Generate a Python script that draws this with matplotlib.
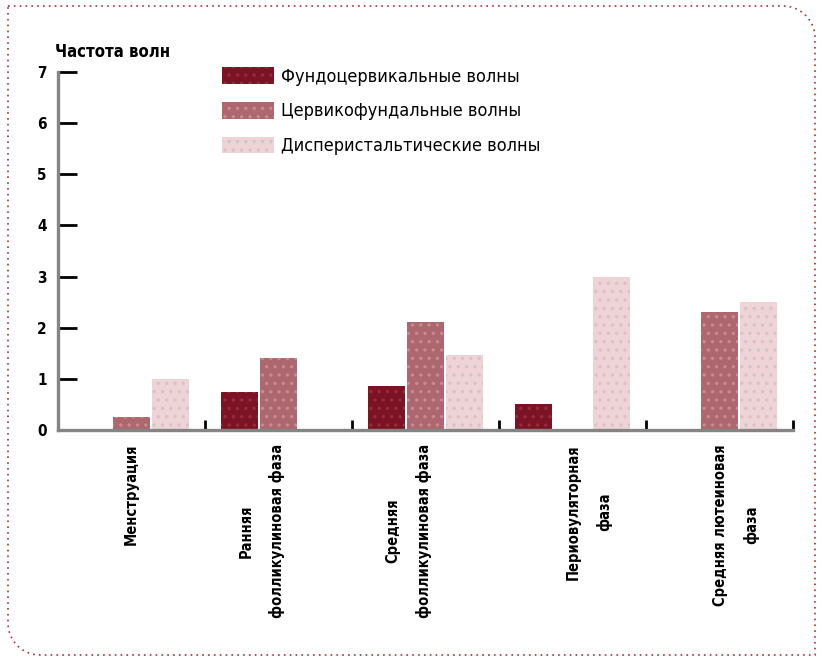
import matplotlib.pyplot as plt
import numpy as np
from matplotlib.path import Path
from matplotlib.patches import PathPatch
from matplotlib.transforms import ScaledTranslation

plt.rcParams['font.family'] = ['DejaVu Sans']
plt.rcParams['font.stretch'] = 'condensed'
plt.rcParams['hatch.linewidth'] = 1.2

phases = ["Менструация", "Ранняя\nфолликулиновая фаза", "Средняя\nфолликулиновая фаза",
          "Периовуляторная\nфаза", "Средняя лютеиновая\nфаза"]
series = ["Фундоцервикальные волны", "Цервикофундальные волны", "Дисперистальтические волны"]
fundocervical = [0, 0.75, 0.86, 0.5, 0]
cervicofundal = [0.25, 1.4, 2.11, 0, 2.3]
dysperistaltic = [1.0, 0, 1.47, 3.0, 2.5]

colors = ["#7a1424", "#ad676e", "#efd4d7"]
hatch_colors = ["#9a2a3c", "#c98a90", "#d6c3c5"]

fig = plt.figure(figsize=(8.22, 6.61), dpi=100)
ax = fig.add_axes([0.0706, 0.3495, 0.894, 0.5415])

x = np.arange(len(phases)) + 0.5
width = 0.25
offset = 0.265
for i, vals in enumerate([fundocervical, cervicofundal, dysperistaltic]):
    ax.bar(x + (i - 1) * offset, vals, width, color=colors[i], edgecolor=hatch_colors[i],
           hatch='..', linewidth=0, label=series[i], zorder=2)

ax.set_xlim(0, 5)
ax.set_ylim(0, 7)
ax.set_yticks(range(8))
ax.set_yticklabels([str(v) for v in range(8)], fontsize=11, fontweight='bold')
ax.set_xticks([])
ax.set_xticks(np.arange(1, 6), minor=True)
ax.tick_params(axis='x', which='minor', direction='in', length=7, width=2, color='black')
ax.tick_params(axis='y', direction='in', length=14, width=2, color='black', pad=8)

# category labels: the longest line of each label sits on the group centre
line_gap = 33
for xc, label in zip(x, phases):
    lines = label.split('\n')
    k = max(range(len(lines)), key=lambda j: len(lines[j]))
    dx = -(k - (len(lines) - 1) / 2) * line_gap
    tr = ax.get_xaxis_transform() + ScaledTranslation(dx / 100, -14 / 100, fig.dpi_scale_trans)
    ax.text(xc, 0, label, transform=tr, rotation=90, ha='center', va='top',
            multialignment='center', fontsize=10.5, fontweight='bold', linespacing=2.2)

for side in ['top', 'right']:
    ax.spines[side].set_visible(False)
for side in ['left', 'bottom']:
    ax.spines[side].set_color('#858585')
    ax.spines[side].set_linewidth(2.4)
    ax.spines[side].set_zorder(3)

fig.text(55 / 822, 1 - 52 / 661, "Частота волн", fontsize=12, fontweight='bold',
         va='center', ha='left')

ax.legend(loc='upper left', bbox_to_anchor=(222 / 822, 1 - 67 / 661),
          bbox_transform=fig.transFigure, frameon=False, fontsize=13,
          handlelength=2.9, handleheight=1.05, handletextpad=0.35,
          labelspacing=0.9, borderpad=0, borderaxespad=0)

# dotted frame with rounded top-right and bottom-left corners
W, H = 822, 661
l, r, t, b, rad = 8, 815, 655, 6, 32
ang = np.linspace(0, np.pi / 2, 20)
pts = [(l, t), (r - rad, t)]
pts += [(r - rad + rad * np.sin(a), t - rad + rad * np.cos(a)) for a in ang]
pts += [(r, b), (l + rad, b)]
pts += [(l + rad - rad * np.sin(a), b + rad - rad * np.cos(a)) for a in ang]
pts += [(l, t)]
pts = np.array(pts) / [W, H]
frame = PathPatch(Path(pts), transform=fig.transFigure, fill=False,
                  edgecolor='#a8303e', linewidth=1.2, linestyle=(0, (1, 2.5)))
fig.patches.append(frame)

fig.savefig("out.png", dpi=100)
